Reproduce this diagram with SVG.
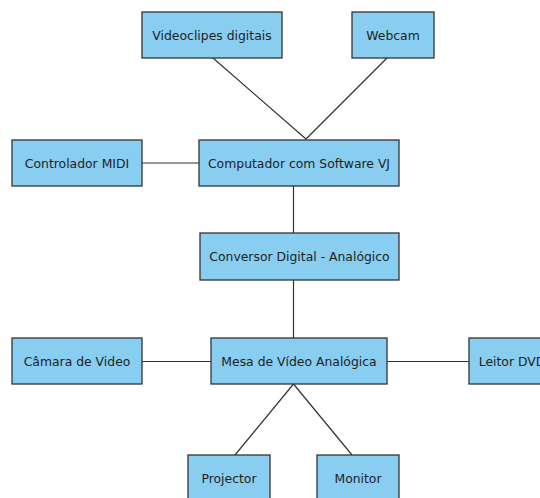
<svg xmlns="http://www.w3.org/2000/svg" width="540" height="498" viewBox="0 0 540 498">
<style>
.n rect{fill:#89CDF1;stroke:#333;stroke-width:1.3}
.n text{font-family:"DejaVu Sans",sans-serif;font-size:12.4px;fill:#1e1e1e;text-anchor:middle;dominant-baseline:central}
.c line{stroke:#333;stroke-width:1.2}
</style>
<rect width="540" height="498" fill="#fff"/>
<g class="c">
<line x1="213" y1="58" x2="306" y2="139"/>
<line x1="387" y1="58" x2="306" y2="139"/>
<line x1="142" y1="163" x2="199" y2="163"/>
<line x1="293.5" y1="186" x2="293.5" y2="233"/>
<line x1="293.5" y1="280" x2="293.5" y2="338"/>
<line x1="142" y1="361.5" x2="211" y2="361.5"/>
<line x1="387" y1="361.5" x2="469" y2="361.5"/>
<line x1="293.5" y1="384" x2="235" y2="455"/>
<line x1="293.5" y1="384" x2="352" y2="455"/>
</g>
<g id="videoclipes" class="n"><rect x="142" y="12" width="140" height="46"/><text x="212" y="35">Videoclipes digitais</text></g>
<g id="webcam" class="n"><rect x="352" y="12" width="82" height="46"/><text x="393" y="35">Webcam</text></g>
<g id="midi" class="n"><rect x="12" y="140" width="130" height="46"/><text x="77" y="163">Controlador MIDI</text></g>
<g id="computador" class="n"><rect x="199" y="140" width="200" height="46"/><text x="299" y="163">Computador com Software VJ</text></g>
<g id="conversor" class="n"><rect x="200" y="233" width="199" height="47"/><text x="299.5" y="256.5">Conversor Digital - Analógico</text></g>
<g id="camara" class="n"><rect x="12" y="338" width="130" height="46"/><text x="77" y="361">Câmara de Video</text></g>
<g id="mesa" class="n"><rect x="211" y="338" width="176" height="46"/><text x="299" y="361">Mesa de Vídeo Analógica</text></g>
<g id="dvd" class="n"><rect x="469" y="338" width="90" height="46"/><text x="512" y="361">Leitor DVD</text></g>
<g id="projector" class="n"><rect x="188" y="455" width="82" height="50"/><text x="229" y="478">Projector</text></g>
<g id="monitor" class="n"><rect x="317" y="455" width="82" height="50"/><text x="358" y="478">Monitor</text></g>
</svg>
